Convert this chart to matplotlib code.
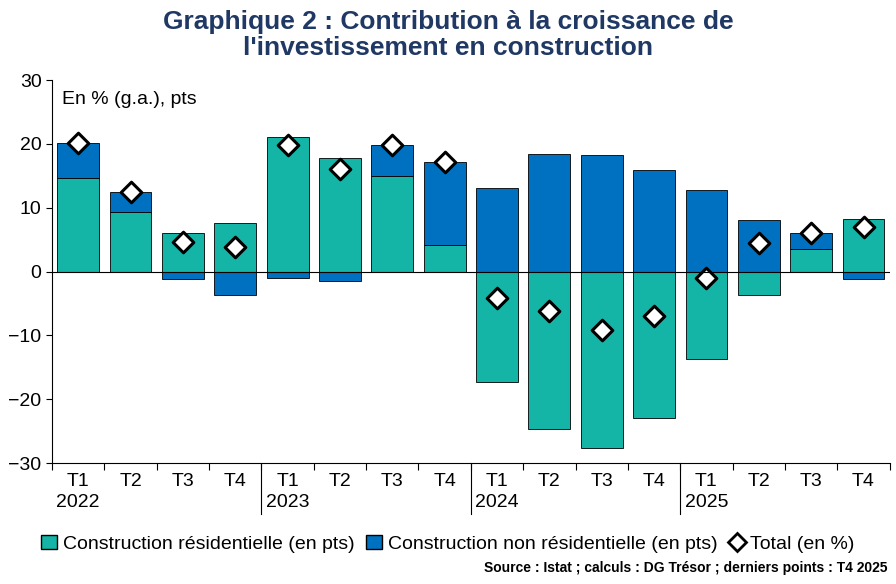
import matplotlib
matplotlib.use("Agg")
import matplotlib.pyplot as plt
import numpy as np

quarters = ["T1","T2","T3","T4"]*4
years = ["2022","2023","2024","2025"]
resid = [14.6,9.4,6.1,7.6, 21.0,17.8,15.0,4.2, -17.3,-24.7,-27.6,-23.0, -13.7,-3.7,3.6,8.3]
nonres = [5.6,3.1,-1.2,-3.7, -1.0,-1.5,4.8,12.9, 13.1,18.4,18.3,15.9, 12.7,8.1,2.4,-1.2]
total = [20.2,12.5,4.7,3.8, 19.8,16.0,19.8,17.2, -4.1,-6.1,-9.2,-7.0, -1.0,4.4,6.0,7.0]

plt.rcParams['font.family'] = ['Liberation Sans', 'DejaVu Sans']
fig = plt.figure(figsize=(8.96,5.84), dpi=100)
ax = fig.add_axes([0.058, 0.207, 0.935, 0.656])
x = np.arange(len(resid))
r = np.array(resid); n = np.array(nonres)
teal = "#14B4A6"; blue = "#0070C0"
ax.bar(x, r, width=0.8, color=teal, edgecolor="black", linewidth=0.6, zorder=2)
base = np.where(np.sign(n) == np.sign(r), r, 0)
ax.bar(x, n, bottom=base, width=0.8, color=blue, edgecolor="black", linewidth=0.6, zorder=2)
ax.scatter(x, total, marker="D", s=110, facecolor="white", edgecolor="black", linewidth=2.2, zorder=3)
ax.axhline(0, color="black", linewidth=0.8, zorder=4)
ax.set_xlim(-0.5, 15.5); ax.set_ylim(-30, 30)
ax.set_yticks(range(-30, 31, 10))
ax.tick_params(axis='y', labelsize=14, length=4, direction='out')
ax.set_xticks(np.arange(-0.5, 16, 1))
ax.set_xticklabels([])
ax.tick_params(axis='x', length=5)
for i, q in enumerate(quarters):
    ax.text(i, -31.5, q, ha='center', va='top', fontsize=14)
for k, y in enumerate(years):
    ax.text(4*k, -34.8, y, ha='center', va='top', fontsize=14)
for b in [3.5, 7.5, 11.5]:
    ax.plot([b, b], [-30, -38], color="black", linewidth=0.8, clip_on=False)
for s in ['top','right']:
    ax.spines[s].set_visible(False)
ax.text(-0.3, 27, "En % (g.a.), pts", fontsize=14, va='center')
fig.text(0.5, 0.94, "Graphique 2 : Contribution à la croissance de\nl'investissement en construction",
         ha='center', va='center', fontsize=19, fontweight='bold', color="#1F3864", linespacing=1.1)
from matplotlib.patches import Patch
from matplotlib.lines import Line2D
handles = [Patch(facecolor=teal, edgecolor='black', label="Construction résidentielle (en pts)"),
           Patch(facecolor=blue, edgecolor='black', label="Construction non résidentielle (en pts)"),
           Line2D([], [], marker='D', linestyle='None', markerfacecolor='white', markeredgecolor='black',
                  markeredgewidth=2, markersize=9, label="Total (en %)")]
fig.legend(handles=handles, loc='center', bbox_to_anchor=(0.5, 0.068), ncol=3, frameon=False,
           fontsize=14, handlelength=0.8, handletextpad=0.3, columnspacing=0.6)
fig.text(0.99, 0.015, "Source : Istat ; calculs : DG Trésor ; derniers points : T4 2025",
         ha='right', va='bottom', fontsize=10, fontweight='bold')
fig.savefig("out.png", dpi=100)
